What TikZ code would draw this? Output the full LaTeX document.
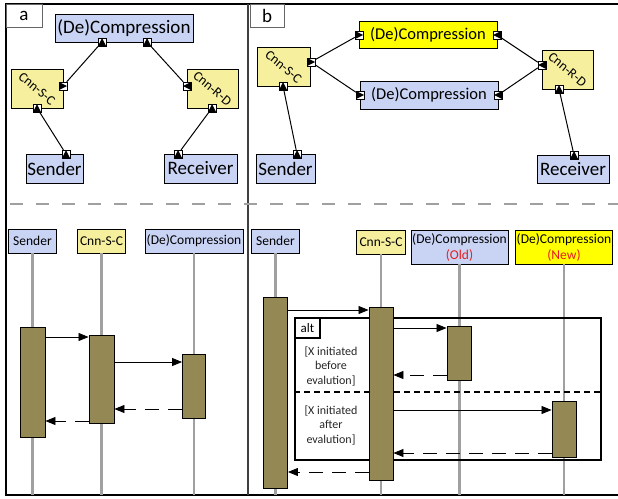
\documentclass[tikz,border=0pt]{standalone}
\usepackage{fontspec}
\setmainfont{Carlito}
\usetikzlibrary{arrows.meta}

\definecolor{cblue}{RGB}{201,212,245}
\definecolor{cyel}{RGB}{245,239,158}
\definecolor{cnew}{RGB}{255,255,0}
\definecolor{colive}{RGB}{148,137,84}
\definecolor{cline}{RGB}{160,160,160}
\definecolor{cred}{RGB}{230,30,30}

\tikzset{
    box/.style={draw, line width=0.9pt, inner sep=0pt, align=center},
    bluebox/.style={box, fill=cblue},
    yelbox/.style={box, fill=cyel},
    newbox/.style={box, fill=cnew},
    big/.style={font=\fontsize{19}{20}\selectfont},
    mid/.style={font=\fontsize{16.5}{18}\selectfont},
    head/.style={font=\fontsize{13.5}{16}\selectfont},
    tilt/.style={rotate=-40, font=\fontsize{13.5}{14}\selectfont},
    port/.style={draw, fill=white, line width=0.4pt, minimum size=8pt, inner sep=0pt},
    portU/.style={port, path picture={\fill[black] (path picture bounding box.south west)
        -- (path picture bounding box.south east) -- (path picture bounding box.north) -- cycle;}},
    portR/.style={port, path picture={\fill[black] (path picture bounding box.north west)
        -- (path picture bounding box.south west) -- (path picture bounding box.east) -- cycle;}},
    portL/.style={port, path picture={\fill[black] (path picture bounding box.north east)
        -- (path picture bounding box.south east) -- (path picture bounding box.west) -- cycle;}},
    link/.style={line width=1pt},
    life/.style={draw=cline, line width=2.6pt},
    act/.style={draw, line width=0.9pt, fill=colive, inner sep=0pt},
    msg/.style={line width=0.8pt, -{Triangle[length=10pt,width=8pt]}},
    ret/.style={msg, dash pattern=on 14pt off 9pt},
    lbl/.style={draw=black!60, line width=0.6pt, fill=white, inner sep=0pt,
        font=\fontsize{19}{20}\selectfont},
    guard/.style={font=\fontsize{12}{14.5}\selectfont, align=center, text=black!85},
}

\begin{document}
\begin{tikzpicture}[x=1pt, y=-1pt]
    \useasboundingbox (0,0) rectangle (618,498);

    % frame
    \draw[line width=1.8pt] (618,4) -- (6,4) -- (6,495) -- (618,495);
    \draw[line width=1.6pt, black!75] (248,4) -- (248,495);
    \draw[cline, line width=2pt, dash pattern=on 13pt off 13pt] (10,204) -- (618,204);
    \node[lbl, minimum width=36pt, minimum height=23pt] (la) at (24,15.5) {a};
    \node[lbl, minimum width=34pt, minimum height=23pt] (lb) at (267,15.5) {b};

    % a: components
    \node[bluebox, big, minimum width=138pt, minimum height=28pt] (deA) at (124,28) {(De)Compression};
    \node[yelbox, minimum width=52pt, minimum height=39pt] (csA) at (37,88.5) {};
    \node[tilt] at (csA) {Cnn-S-C};
    \node[yelbox, minimum width=51pt, minimum height=39pt] (rdA) at (212.5,88.5) {};
    \node[tilt] at (rdA) {Cnn-R-D};
    \node[bluebox, big, minimum width=57pt, minimum height=29pt] (sndA) at (54.5,168.5) {Sender};
    \node[bluebox, big, minimum width=73pt, minimum height=29pt] (rcvA) at (200.5,168.5) {Receiver};

    \node[portU] (pDeA1) at (102,42) {};
    \node[portU] (pDeA2) at (147,42) {};
    \node[portR] (pCsA1) at (63,86) {};
    \node[portU] (pCsA2) at (37,108) {};
    \node[portL] (pRdA1) at (187,86) {};
    \node[portU] (pRdA2) at (212,108) {};
    \node[portU] (pSndA) at (66,154) {};
    \node[portU] (pRcvA) at (178,154) {};

    \draw[link] (pDeA1) -- (pCsA1);
    \draw[link] (pDeA2) -- (pRdA1);
    \draw[link] (pCsA2) -- (pSndA);
    \draw[link] (pRdA2) -- (pRcvA);

    % b: components
    \node[newbox, mid, minimum width=138pt, minimum height=27pt] (deY) at (428,34.5) {(De)Compression};
    \node[bluebox, mid, minimum width=138pt, minimum height=28pt] (deB) at (429,95) {(De)Compression};
    \node[yelbox, minimum width=53pt, minimum height=39pt] (csB) at (283.5,66.5) {};
    \node[tilt] at (csB) {Cnn-S-C};
    \node[yelbox, minimum width=51pt, minimum height=39pt] (rdB) at (567.5,69.5) {};
    \node[tilt] at (rdB) {Cnn-R-D};
    \node[bluebox, big, minimum width=59pt, minimum height=29pt] (sndB) at (285.5,168.5) {Sender};
    \node[bluebox, big, minimum width=72pt, minimum height=28pt] (rcvB) at (573,169) {Receiver};

    \node[portR] (pCsB1) at (311,62) {};
    \node[portU] (pCsB2) at (283,86) {};
    \node[portR] (pDeY1) at (359,35) {};
    \node[portL] (pDeY2) at (497,35) {};
    \node[portR] (pDeB1) at (360,95) {};
    \node[portL] (pDeB2) at (498,95) {};
    \node[portL] (pRdB1) at (542,65) {};
    \node[portU] (pRdB2) at (559,89) {};
    \node[portU] (pSndB) at (297,154) {};
    \node[portU] (pRcvB) at (574,155) {};

    \draw[link] (pCsB1) -- (pDeY1);
    \draw[link] (pCsB1) -- (pDeB1);
    \draw[link] (pRdB1) -- (pDeY2);
    \draw[link] (pRdB1) -- (pDeB2);
    \draw[link] (pCsB2) -- (pSndB);
    \draw[link] (pRdB2) -- (pRcvB);

    % a: sequence
    \coordinate (bot) at (0,495);
    \node[bluebox, head, minimum width=48pt, minimum height=24pt] (hSndA) at (32.5,241) {Sender};
    \node[yelbox, head, minimum width=48pt, minimum height=24pt] (hCsA) at (101.5,241) {Cnn-S-C};
    \node[bluebox, head, minimum width=98pt, minimum height=24pt] (hDeA) at (194,241) {(De)Compression};
    \foreach \h in {hSndA, hCsA, hDeA} {
        \draw[life] (\h) -- (\h |- bot);
    }
    \node[act, minimum width=25pt, minimum height=110pt] (aSndA) at (32.5,382) {};
    \node[act, minimum width=25pt, minimum height=88pt] (aCsA) at (101.5,379) {};
    \node[act, minimum width=23pt, minimum height=64pt] (aDeA) at (194,386) {};

    \coordinate (ma1) at (0,337);
    \coordinate (ma2) at (0,362);
    \coordinate (ma3) at (0,409);
    \coordinate (ma4) at (0,421);
    \draw[msg] (aSndA.east |- ma1) -- (aCsA.west |- ma1);
    \draw[msg] (aCsA.east |- ma2) -- (aDeA.west |- ma2);
    \draw[ret] (aDeA.west |- ma3) -- (aCsA.east |- ma3);
    \draw[ret] (aCsA.west |- ma4) -- (aSndA.east |- ma4);

    % b: sequence
    \node[bluebox, head, minimum width=48pt, minimum height=24pt] (hSndB) at (275.5,241) {Sender};
    \node[yelbox, head, minimum width=49pt, minimum height=24pt] (hCsB) at (381,242) {Cnn-S-C};
    \node[bluebox, head, minimum width=97pt, minimum height=34pt] (hOld) at (459.5,247)
        {(De)Compression\\\textcolor{cred}{(Old)}};
    \node[newbox, head, minimum width=97pt, minimum height=34pt] (hNew) at (564,247)
        {(De)Compression\\\textcolor{cred}{(New)}};
    \foreach \h in {hSndB, hCsB, hOld, hNew} {
        \draw[life] (\h) -- (\h |- bot);
    }

    \node[draw, line width=1.4pt, minimum width=306pt, minimum height=142pt] (altf) at (448,389) {};
    \coordinate (sep) at (0,392);
    \draw[line width=1.4pt, dash pattern=on 6pt off 4pt] (altf.west |- sep) -- (altf.east |- sep);
    \node[draw, line width=1.4pt, fill=white, inner sep=0pt, minimum width=25pt, minimum height=20pt,
        font=\fontsize{13}{14}\selectfont, anchor=north west] (alt) at (altf.north west) {alt};
    \node[guard] (g1) at (331,366) {[X initiated\\before\\evalution]};
    \node[guard] (g2) at (331,425) {[X initiated\\after\\evalution]};

    \node[act, minimum width=24pt, minimum height=191pt] (aSndB) at (275.5,392.5) {};
    \node[act, minimum width=24pt, minimum height=173pt] (aCsB) at (381,393.5) {};
    \node[act, minimum width=24pt, minimum height=54pt] (aOld) at (459,353) {};
    \node[act, minimum width=24pt, minimum height=56pt] (aNew) at (564,429) {};

    \coordinate (mb1) at (0,310);
    \coordinate (mb2) at (0,328);
    \coordinate (mb3) at (0,375);
    \coordinate (mb4) at (0,410);
    \coordinate (mb5) at (0,453);
    \coordinate (mb6) at (0,472);
    \draw[msg] (aSndB.east |- mb1) -- (aCsB.west |- mb1);
    \draw[msg] (aCsB.east |- mb2) -- (aOld.west |- mb2);
    \draw[ret] (aOld.west |- mb3) -- (aCsB.east |- mb3);
    \draw[msg] (aCsB.east |- mb4) -- (aNew.west |- mb4);
    \draw[ret] (aNew.west |- mb5) -- (aCsB.east |- mb5);
    \draw[ret] (aCsB.west |- mb6) -- (aSndB.east |- mb6);
\end{tikzpicture}
\end{document}
